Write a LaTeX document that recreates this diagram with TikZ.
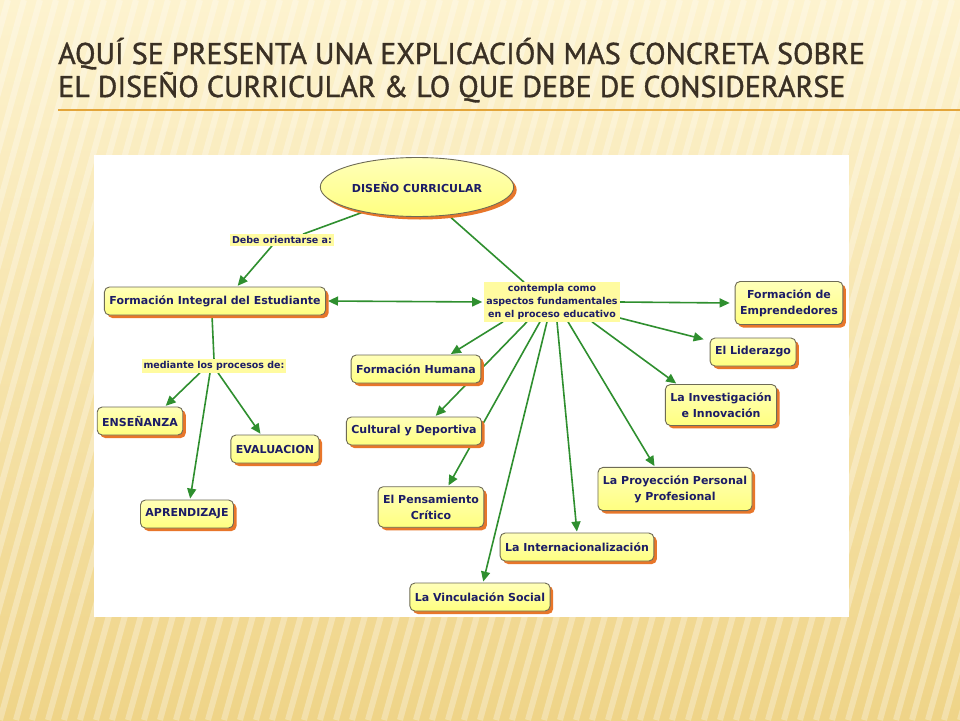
\documentclass[tikz,border=0pt]{standalone}
\usepackage{fontspec}
\setmainfont{DejaVu Sans}
\newfontfamily\titlefont[FakeStretch=1.0,FakeBold=1.2]{PT Sans}
\usetikzlibrary{arrows.meta,shapes.geometric,shadows}
\definecolor{cream}{HTML}{FDF3CF}
\definecolor{sand}{HTML}{EFD488}
\definecolor{boxyellow}{HTML}{FFFF80}
\definecolor{boxedge}{HTML}{6E6B55}
\definecolor{inkblue}{HTML}{1C1C66}
\definecolor{linkgreen}{HTML}{2F8F2F}
\definecolor{shadoworange}{HTML}{E8762A}
\definecolor{titleink}{HTML}{3A3024}
\definecolor{rulegold}{HTML}{E3A53A}
\definecolor{linkfill}{HTML}{FFFBA0}
\pgfdeclarelayer{back}
\pgfdeclarelayer{links}
\pgfsetlayers{back,links,main}
\tikzset{
  cmap/.tip={Triangle[length=10pt,width=9pt]},
  concept/.style={rectangle,rounded corners=5pt,draw=boxedge,line width=0.9pt,
    top color=boxyellow!55!white,bottom color=boxyellow,
    text=inkblue,font=\fontsize{11}{16}\selectfont\bfseries,align=center,
    inner xsep=5pt,inner ysep=8pt,minimum height=28pt,
    drop shadow={shadow xshift=3pt,shadow yshift=-3pt,fill=shadoworange,opacity=1}},
  linkphrase/.style={fill=linkfill,text=inkblue,
    font=\fontsize{9.5}{13}\selectfont\bfseries,align=center,inner sep=2pt},
  conn/.style={draw=linkgreen,line width=1.6pt},
  arr/.style={conn,-cmap,shorten >=1pt},
  headline/.style={anchor=base west,inner sep=0pt,text=titleink,
    font=\titlefont\fontsize{30}{30}\selectfont},
}
\begin{document}
\begin{tikzpicture}[x=1pt,y=-1pt]
  \useasboundingbox (0,0) rectangle (960,720);
  % slide background
  \begin{pgfonlayer}{back}
    \shade[top color=cream,bottom color=sand] (0,0) rectangle (960,720);
    \begin{scope}
      \clip (0,0) rectangle (960,720);
      \foreach \s in {-240,-224,...,960}
        \draw[white,opacity=0.3,line width=6pt] (\s,720) -- (\s+200,0);
    \end{scope}
    \draw[rulegold,line width=1.2pt] (58,110) -- (960,110);
    \fill[white] (94,155) rectangle (849,617);
  \end{pgfonlayer}

  % title
  \node[headline] (title1) at (58,64) {AQUÍ SE PRESENTA UNA EXPLICACIÓN MAS CONCRETA SOBRE};
  \node[headline] (title2) at (58,97) {EL DISEÑO CURRICULAR \& LO QUE DEBE DE CONSIDERARSE};

  % concept map
  \node[ellipse,draw=boxedge,line width=0.9pt,top color=boxyellow!55!white,bottom color=boxyellow,
    text=inkblue,font=\fontsize{11}{13}\selectfont\bfseries,minimum width=151pt,minimum height=59pt,
    drop shadow={shadow xshift=3pt,shadow yshift=-3pt,fill=shadoworange,opacity=1}]
    (dc) at (417,187) {DISEÑO CURRICULAR};
  \node[linkphrase] (debe) at (282,240) {Debe orientarse a:};
  \node[concept] (fie) at (215,301) {Formación Integral del Estudiante};
  \node[linkphrase] (cont) at (552,302) {contempla como\\aspectos fundamentales\\en el proceso educativo};
  \node[concept] (emp) at (789,303) {Formación de\\Emprendedores};
  \node[concept] (lid) at (753,352) {El Liderazgo};
  \node[concept] (inv) at (721,405) {La Investigación\\e Innovación};
  \node[concept] (proy) at (675,489) {La Proyección Personal\\y Profesional};
  \node[concept] (intl) at (577,547) {La Internacionalización};
  \node[concept] (vinc) at (480,597) {La Vinculación Social};
  \node[concept] (pens) at (431,507) {El Pensamiento\\Crítico};
  \node[concept] (cult) at (414,431) {Cultural y Deportiva};
  \node[concept] (hum) at (416,369) {Formación Humana};
  \node[linkphrase] (med) at (214,366) {mediante los procesos de:};
  \node[concept] (ens) at (140,421) {ENSEÑANZA};
  \node[concept] (eva) at (275,449) {EVALUACION};
  \node[concept] (apr) at (187,514) {APRENDIZAJE};

  \begin{pgfonlayer}{links}
    \draw[conn] (dc.205) -- ([xshift=21pt]debe.north);
    \draw[arr] ([xshift=-10pt]debe.south) -- ([xshift=22pt]fie.north);
    \draw[conn] (dc.318) -- ([xshift=-28pt]cont.north);
    \draw[conn,cmap-cmap,shorten <=2pt,shorten >=2pt] (fie.east) -- (cont.west);
    \draw[arr] (cont.east) -- ([xshift=-4pt]emp.west);
    \draw[arr] ([yshift=-16pt]cont.east) -- ([xshift=-5pt,yshift=-2pt]lid.north west);
    \draw[arr] ([xshift=40pt]cont.south) -- ([xshift=-44pt]inv.north);
    \draw[arr] ([xshift=16pt]cont.south) -- ([xshift=-20pt]proy.north);
    \draw[arr] ([xshift=5pt]cont.south) -- (intl.north);
    \draw[arr] ([xshift=-5pt]cont.south) -- ([xshift=3pt]vinc.north);
    \draw[arr] ([xshift=-12pt]cont.south) -- ([xshift=17pt]pens.north);
    \draw[arr] ([xshift=-25pt]cont.south) -- ([xshift=21pt]cult.north);
    \draw[arr] ([xshift=-49pt]cont.south) -- ([xshift=34pt]hum.north);
    \draw[conn] ([xshift=-3pt]fie.south) -- (med.north);
    \draw[arr] ([xshift=-14pt]med.south) -- ([xshift=25pt]ens.north);
    \draw[arr] ([xshift=4pt]med.south) -- ([xshift=-14pt]eva.north);
    \draw[arr] ([xshift=-4pt]med.south) -- ([xshift=3pt]apr.north);
  \end{pgfonlayer}
\end{tikzpicture}
\end{document}
